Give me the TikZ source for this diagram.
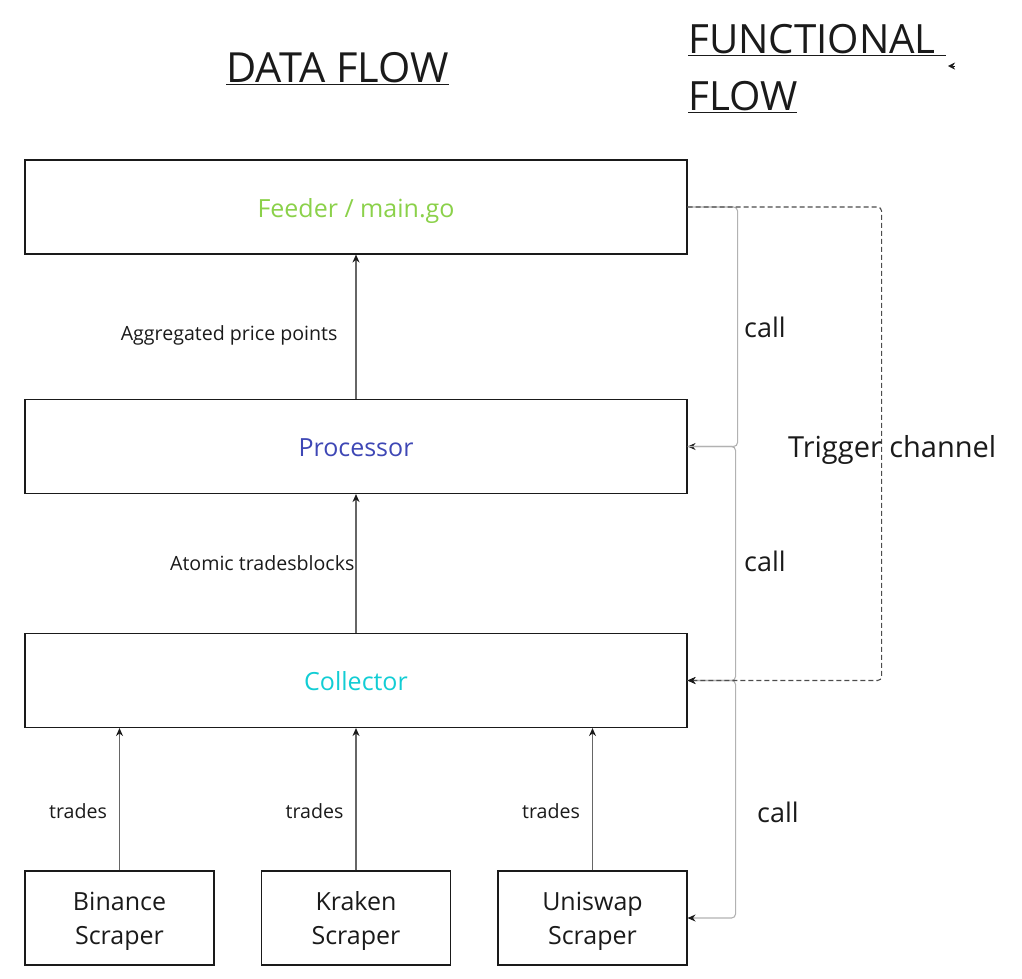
\documentclass[tikz,border=0pt]{standalone}
\usepackage{fontspec}
\setmainfont{Open Sans}
\usepackage{tikz}
\usetikzlibrary{arrows.meta,calc,positioning}
\definecolor{flowgreen}{RGB}{139,209,74}
\definecolor{flowblue}{RGB}{62,71,181}
\definecolor{flowcyan}{RGB}{18,205,212}
\definecolor{flowink}{RGB}{26,26,26}
\definecolor{flowgray}{RGB}{178,178,178}

\begin{document}
\begin{tikzpicture}[x=1pt, y=-1pt,
      stage/.style={draw=flowink, line width=1.1pt, minimum width=662pt, minimum height=94pt, inner sep=0pt, text height=20pt, text depth=0pt, font=\fontsize{25}{30}\selectfont},
      scraper/.style={draw=flowink, line width=1.1pt, minimum width=189pt, minimum height=94pt, inner sep=0pt, align=center, text depth=0pt, text=flowink, font=\fontsize{25}{34}\selectfont},
      heading/.style={anchor=base west, inner sep=0pt, align=left, text=flowink, font=\fontsize{41.5}{57}\selectfont},
      flow/.style={draw=black!60, line width=1.1pt, -{Stealth[length=8pt, width=7pt, color=flowink]}},
      call/.style={draw=flowgray, line width=1.1pt, rounded corners=4pt, -{Stealth[length=8pt, width=7pt, color=flowink]}},
      trigger/.style={draw=black!70, line width=1.1pt, dash pattern=on 5pt off 3pt, rounded corners=4pt, -{Stealth[length=8pt, width=7pt, color=flowink]}},
      lbl/.style={text=flowink, inner sep=0pt, font=\fontsize{19.6}{22}\selectfont},
      side/.style={anchor=base west, text=flowink, inner sep=0pt, font=\fontsize{27}{32}\selectfont}
    ]
      \useasboundingbox (0,0) rectangle (1022,978);

      % titles
      \node[heading] (dataTitle) at (226,82) {\underline{DATA FLOW}};
      \node[heading, font=\fontsize{40.3}{57}\selectfont] (funcTitle) at (688,110) {\underline{FUNCTIONAL~}\\\underline{FLOW}};
      \coordinate (strayTip) at (955,66);
      \draw[-{Stealth[length=7pt, width=7pt, color=flowink]}, line width=0.4pt, draw=flowink] (strayTip) -- ++(-7,0);

      % data flow stages
      \node[stage, text=flowgreen] (feeder) at (356,207) {Feeder / main.go};
      \node[stage, text=flowblue] (processor) at (356,446.5) {Processor};
      \node[stage, text=flowcyan] (collector) at (356,680.5) {Collector};

      \node[scraper] (binance) at (119.5,918) {Binance\\Scraper};
      \node[scraper] (kraken) at (356,918) {Kraken\\Scraper};
      \node[scraper] (uniswap) at (592.5,918) {Uniswap\\Scraper};

      \draw[flow] (processor.north) -- node[lbl, pos=0.44, left=18pt] {Aggregated price points} (feeder.south);
      \draw[flow] (collector.north) -- node[lbl, pos=0.5, left=1pt] {Atomic tradesblocks} (processor.south);
      \foreach \src in {binance,kraken,uniswap}
        \draw[flow] (\src.north) -- node[lbl, pos=0.42, left=12pt] {trades} (\src.north |- collector.south);

      % functional flow
      \draw[call] (feeder.east) -- ++(50,0) |- (processor.east);
      \draw[call] (processor.east) -- ++(48,0) |- (collector.east);
      \draw[call] (collector.east) -- ++(48,0) |- (uniswap.east);
      \draw[trigger] (feeder.east) -- ++(194,0) |- (collector.east);

      \node[side] (call1) at (744,337) {call};
      \node[side] (call2) at (744,571) {call};
      \node[side] (call3) at (757,822) {call};
      \node[side, font=\fontsize{29}{34}\selectfont] (trigLabel) at (788,457) {Trigger channel};
    \end{tikzpicture}
\end{document}
